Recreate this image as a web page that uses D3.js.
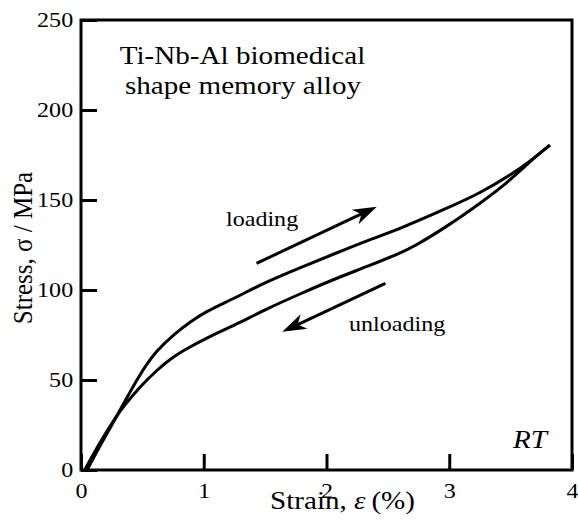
<!DOCTYPE html>
<html lang="en">
<head>
<meta charset="UTF-8">
<title>Ti-Nb-Al stress-strain loop</title>
<style>
  body { margin: 0; background: #fff; }
  svg { display: block; }
</style>
</head>
<body>
<svg id="chart" width="578" height="526"></svg>
<script src="https://d3js.org/d3.v7.min.js"></script>
<script>
// loading branch (strain %, stress MPa)
const loadStrain = [0.05, 0.15, 0.29, 0.48, 0.62, 0.75, 0.89, 1.02, 1.16, 1.30, 1.51, 1.79, 2.06, 2.33, 2.60, 2.98, 3.25, 3.52, 3.65, 3.82];
const loadStress = [0, 13, 29.6, 53.7, 66.7, 75, 82.4, 88, 92.6, 97.2, 104.5, 112.5, 120, 127.5, 134, 145.4, 153.7, 164.8, 171, 180.5];

// unloading branch, written in increasing strain
const unloadStrain = [0.03, 0.15, 0.29, 0.345, 0.48, 0.62, 0.75, 0.89, 1.02, 1.16, 1.30, 1.51, 1.79, 2.06, 2.33, 2.60, 2.71, 2.98, 3.25, 3.47, 3.65, 3.82];
const unloadStress = [0, 15, 30, 35.2, 46.3, 55.6, 63, 68.5, 73.1, 77.8, 82, 89.5, 98, 106, 113, 120.5, 124, 135.2, 148.1, 159.3, 171, 180.5];

const xTicks = [0, 1, 2, 3, 4];
const yTicks = [0, 50, 100, 150, 200, 250];

const svg = d3.select("#chart");
const x = d3.scaleLinear().domain([0, 4]).range([81, 572]);
const y = d3.scaleLinear().domain([0, 250]).range([470, 20]);
const SX = 1.12; // text is a bit wide in the original
const FONT = "Liberation Serif";

// axes with inward ticks
const xAxis = svg.append("g")
    .attr("transform", "translate(0,470)")
    .call(d3.axisBottom(x).tickValues(xTicks).tickFormat(d3.format("d"))
        .tickSizeInner(-16).tickSizeOuter(0).tickPadding(13));
const yAxis = svg.append("g")
    .attr("transform", "translate(81,0)")
    .call(d3.axisLeft(y).tickValues(yTicks).tickFormat(d3.format("d"))
        .tickSizeInner(-16).tickSizeOuter(0).tickPadding(7));

[xAxis, yAxis].forEach(g => {
    g.attr("font-family", FONT).attr("font-size", 21.5);
    g.select(".domain").remove();
    g.selectAll(".tick line").attr("stroke", "#000").attr("stroke-width", 3);
    g.selectAll(".tick text")
        .attr("fill", "#000")
        .attr("transform", `scale(${SX},1)`);
});

// frame
svg.append("rect")
    .attr("x", x(0)).attr("y", y(250))
    .attr("width", x(4) - x(0)).attr("height", y(0) - y(250))
    .attr("fill", "none").attr("stroke", "#000").attr("stroke-width", 3);

// curves
const line = d3.line()
    .x(d => x(d[0])).y(d => y(d[1]))
    .curve(d3.curveBasis);

svg.append("path")
    .datum(loadStrain.map((s, i) => [s, loadStress[i]]))
    .attr("d", line)
    .attr("fill", "none").attr("stroke", "#000").attr("stroke-width", 3);

svg.append("path")
    .datum(unloadStrain.map((s, i) => [s, unloadStress[i]]))
    .attr("d", line)
    .attr("fill", "none").attr("stroke", "#000").attr("stroke-width", 3);

// arrows
function arrow(x0, y0, x1, y1) {
    const ax = x(x0), ay = y(y0), bx = x(x1), by = y(y1);
    const ang = Math.atan2(by - ay, bx - ax);
    const L = 24, W = 8, N = 17;
    const c = Math.cos(ang), s = Math.sin(ang);
    const pt = (u, v) => [bx + u * c - v * s, by + u * s + v * c];
    svg.append("line")
        .attr("x1", ax).attr("y1", ay)
        .attr("x2", pt(-N, 0)[0]).attr("y2", pt(-N, 0)[1])
        .attr("stroke", "#000").attr("stroke-width", 3);
    svg.append("path")
        .attr("d", "M" + [pt(0, 0), pt(-L, -W), pt(-N, 0), pt(-L, W)].map(p => p.join(",")).join("L") + "Z")
        .attr("fill", "#000");
}
arrow(1.43, 114.8, 2.41, 146.3);
arrow(2.48, 103.7, 1.64, 76.8);

// labels
function label(txt, px, py, size, anchor, italic) {
    const t = svg.append("text")
        .attr("transform", `translate(${px},${py}) scale(${SX},1)`)
        .attr("font-family", FONT)
        .attr("text-anchor", anchor || "start")
        .attr("font-size", size)
        .text(txt);
    if (italic) t.attr("font-style", "italic");
    return t;
}
label("Ti-Nb-Al biomedical", 242.5, 64, 26, "middle");
label("shape memory alloy", 243, 94, 26, "middle");
label("loading", 226, 226, 21.5);
label("unloading", 349, 331, 21.5);
label("RT", 513, 448, 26, "start", true);

const xl = svg.append("text")
    .attr("transform", `translate(270,509) scale(${SX},1)`)
    .attr("font-family", FONT)
    .attr("font-size", 26);
xl.append("tspan").text("Strain, ");
xl.append("tspan").attr("font-style", "italic").text("ε");
xl.append("tspan").text("\u2009(%)");

svg.append("text")
    .attr("transform", `translate(32,248) scale(${SX},1) rotate(-90)`)
    .attr("font-family", FONT)
    .attr("text-anchor", "middle")
    .attr("font-size", 25)
    .text("Stress, σ / MPa");
</script>
</body>
</html>
